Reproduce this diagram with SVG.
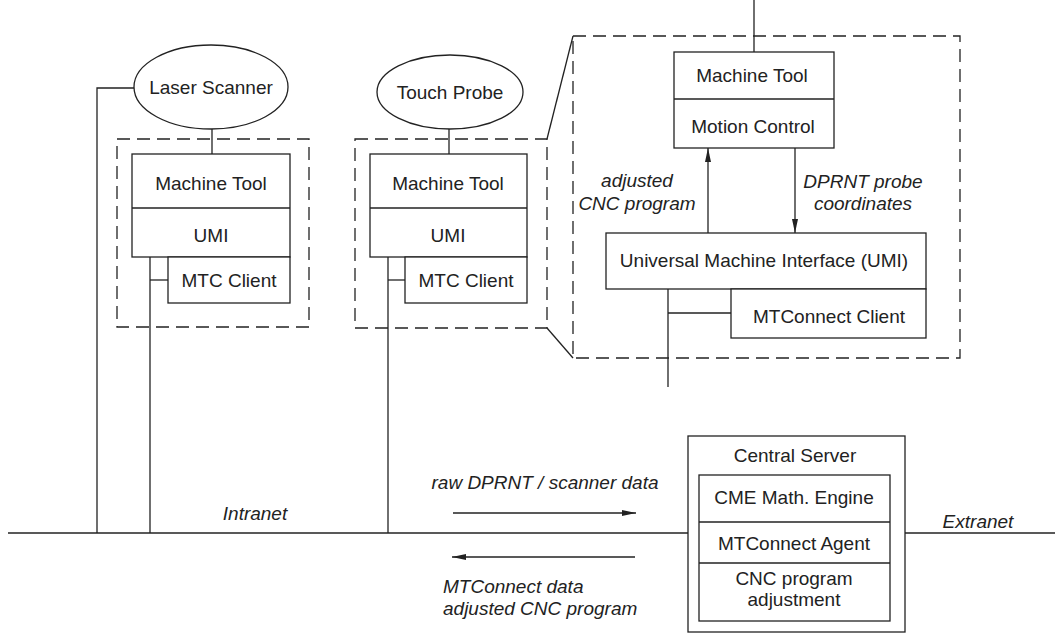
<svg xmlns="http://www.w3.org/2000/svg" width="1055" height="633" viewBox="0 0 1055 633">
  <defs>
    <style>
      .ln { fill: none; stroke: #222; stroke-width: 1.3; }
      .box { fill: #fff; stroke: #222; stroke-width: 1.3; }
      .dash { fill: none; stroke: #222; stroke-width: 1.3; stroke-dasharray: 13 7; }
      text { font-family: "Liberation Sans", Arial, sans-serif; font-size: 19px; fill: #222; text-anchor: middle; }
      .it { font-style: italic; }
      .lt { text-anchor: start; }
    </style>
    <marker id="arr" viewBox="0 0 14 6" refX="14" refY="3" markerWidth="14" markerHeight="6" markerUnits="userSpaceOnUse" orient="auto">
      <path d="M0,0 L14,3 L0,6 z" fill="#222"/>
    </marker>
  </defs>

  <rect width="1055" height="633" fill="#fff"/>

  <!-- connectors and network lines -->
  <g id="connectors">
    <!-- intranet / extranet bus -->
    <line class="ln" x1="8" y1="533" x2="688" y2="533"/>
    <line class="ln" x1="905" y1="533" x2="1055" y2="533"/>
    <!-- laser scanner to bus -->
    <polyline class="ln" points="134,88 97,88 97,533"/>
    <line class="ln" x1="212" y1="129" x2="212" y2="154"/>
    <line class="ln" x1="150" y1="257" x2="150" y2="533"/>
    <line class="ln" x1="150" y1="280" x2="168" y2="280"/>
    <!-- touch probe to bus -->
    <line class="ln" x1="449" y1="129" x2="449" y2="154"/>
    <line class="ln" x1="388" y1="257" x2="388" y2="533"/>
    <line class="ln" x1="388" y1="280" x2="405" y2="280"/>
    <!-- detail callout lines -->
    <line class="ln" x1="547" y1="139" x2="573" y2="36"/>
    <line class="ln" x1="547" y1="328" x2="573" y2="358"/>
    <!-- detail internal links -->
    <line class="ln" x1="754" y1="0" x2="754" y2="52"/>
    <line class="ln" x1="708" y1="233" x2="708" y2="148" marker-end="url(#arr)"/>
    <line class="ln" x1="795" y1="148" x2="795" y2="233" marker-end="url(#arr)"/>
    <line class="ln" x1="668" y1="289" x2="668" y2="387"/>
    <line class="ln" x1="668" y1="313" x2="731" y2="313"/>
    <!-- data flow arrows -->
    <line class="ln" x1="453" y1="513" x2="636" y2="513" marker-end="url(#arr)"/>
    <line class="ln" x1="635" y1="557" x2="452" y2="557" marker-end="url(#arr)"/>
  </g>

  <!-- laser scanner station -->
  <g id="laser-scanner">
    <ellipse class="box" cx="211" cy="87" rx="77" ry="42"/>
    <text x="211" y="94">Laser Scanner</text>
  </g>
  <g id="laser-station">
    <rect class="dash" x="117" y="139" width="192" height="188"/>
    <rect class="box" x="132" y="154" width="158" height="103"/>
    <line class="ln" x1="132" y1="208" x2="290" y2="208"/>
    <text x="211" y="190">Machine Tool</text>
    <text x="211" y="242">UMI</text>
    <rect class="box" x="168" y="257" width="122" height="46"/>
    <text x="229" y="287">MTC Client</text>
  </g>

  <!-- touch probe station -->
  <g id="touch-probe">
    <ellipse class="box" cx="450" cy="92" rx="73" ry="37"/>
    <text x="450" y="99">Touch Probe</text>
  </g>
  <g id="probe-station">
    <rect class="dash" x="355" y="139" width="192" height="189"/>
    <rect class="box" x="370" y="154" width="157" height="103"/>
    <line class="ln" x1="370" y1="208" x2="527" y2="208"/>
    <text x="448" y="190">Machine Tool</text>
    <text x="448" y="242">UMI</text>
    <rect class="box" x="405" y="257" width="122" height="46"/>
    <text x="466" y="287">MTC Client</text>
  </g>

  <!-- detail of probe station -->
  <g id="detail">
    <rect class="dash" x="573" y="36" width="387" height="322"/>
  </g>
  <g id="detail-machine-tool">
    <rect class="box" x="674" y="52" width="160" height="96"/>
    <line class="ln" x1="674" y1="99" x2="834" y2="99"/>
    <text x="752" y="82">Machine Tool</text>
    <text x="753" y="133">Motion Control</text>
  </g>
  <g id="detail-umi">
    <rect class="box" x="606" y="233" width="320" height="56"/>
    <text x="764" y="267">Universal Machine Interface (UMI)</text>
  </g>
  <g id="detail-mtc-client">
    <rect class="box" x="731" y="289" width="195" height="49"/>
    <text x="829" y="323">MTConnect Client</text>
  </g>
  <g id="detail-labels">
    <text class="it" x="637" y="187">adjusted</text>
    <text class="it" x="637" y="210">CNC program</text>
    <text class="it" x="863" y="188">DPRNT probe</text>
    <text class="it" x="863" y="210">coordinates</text>
  </g>

  <!-- central server -->
  <g id="central-server">
    <rect class="box" x="688" y="436" width="217" height="196"/>
    <text x="795" y="462">Central Server</text>
    <rect class="box" x="699" y="475" width="191" height="146"/>
    <line class="ln" x1="699" y1="522" x2="890" y2="522"/>
    <line class="ln" x1="699" y1="563" x2="890" y2="563"/>
    <text x="794" y="504">CME Math. Engine</text>
    <text x="794" y="550">MTConnect Agent</text>
    <text x="794" y="585">CNC program</text>
    <text x="794" y="606">adjustment</text>
  </g>

  <!-- network labels -->
  <g id="labels">
    <text class="it" x="255" y="520">Intranet</text>
    <text class="it" x="978" y="528">Extranet</text>
    <text class="it" x="545" y="489">raw DPRNT / scanner data</text>
    <text class="it lt" x="443" y="593">MTConnect data</text>
    <text class="it lt" x="443" y="615">adjusted CNC program</text>
  </g>
</svg>
